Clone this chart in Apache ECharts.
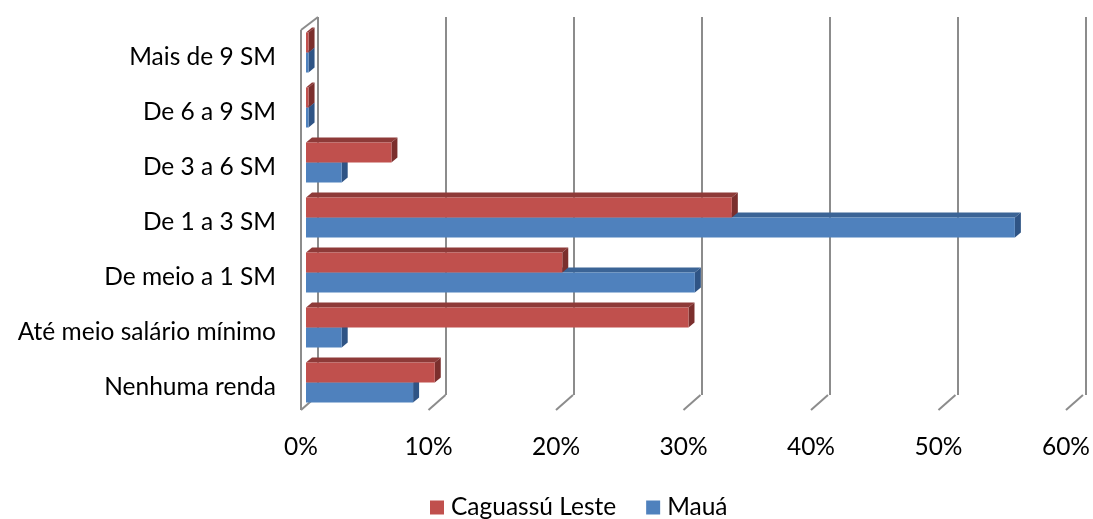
<!DOCTYPE html>
<html><head><meta charset="utf-8">
<script src="https://cdn.jsdelivr.net/npm/echarts@6/dist/echarts.min.js"></script>
<style>html,body{margin:0;padding:0;background:#fff}#c{width:1093px;height:519px}</style>
</head><body><div id="c"></div>
<script>
const categories = ['Nenhuma renda','Até meio salário mínimo','De meio a 1 SM','De 1 a 3 SM','De 3 a 6 SM','De 6 a 9 SM','Mais de 9 SM'];
const caguassu = [10.1, 30.0, 20.1, 33.4, 6.7, 0.2, 0.2];
const maua = [8.4, 2.8, 30.5, 55.6, 2.8, 0.2, 0.2];
const xTicks = [0, 10, 20, 30, 40, 50, 60];
const seriesNames = ['Caguassú Leste', 'Mauá'];

const FONT = 'Lato';
const FS = 24.5;
const DX = 6, DY = -5, H = 20, SHIFT = 5;

function barRenderer(isTop, front, topC, sideC) {
  return function (params, api) {
    const v = api.value(0), c = api.value(1);
    const p0 = api.coord([0, c]);
    const p1 = api.coord([v, c]);
    const boundary = p0[1] - 5;
    const y0 = isTop ? boundary - H : boundary;
    const x0 = p0[0] + SHIFT, x1 = p1[0] + SHIFT;
    return {
      type: 'group',
      children: [
        {type: 'polygon', shape: {points: [[x0, y0], [x0 + DX, y0 + DY], [x1 + DX, y0 + DY], [x1, y0]]}, style: {fill: topC}},
        {type: 'polygon', shape: {points: [[x1, y0], [x1 + DX, y0 + DY], [x1 + DX, y0 + H + DY], [x1, y0 + H]]}, style: {fill: sideC}},
        {type: 'rect', shape: {x: x0, y: y0, width: Math.max(x1 - x0, 0), height: H}, style: {fill: front}}
      ]
    };
  };
}

function wallRenderer(params, api) {
  const v = api.value(0);
  const cs = params.coordSys;
  const x = api.coord([v, 0])[0];
  const by = cs.y + cs.height - 5;
  const children = [
    {type: 'line', shape: {x1: x, y1: by, x2: x + 17, y2: by - 15}, style: {stroke: '#8c8c8c', lineWidth: 2}}
  ];
  if (v === 0) {
    children.push({type: 'line', shape: {x1: x, y1: cs.y, x2: x, y2: by}, style: {stroke: '#8c8c8c', lineWidth: 2}});
    children.push({type: 'line', shape: {x1: x, y1: cs.y, x2: x + 17, y2: cs.y - 13}, style: {stroke: '#8c8c8c', lineWidth: 2}});
  }
  return {type: 'group', children};
}

const chart = echarts.init(document.getElementById('c'));
chart.setOption({
  animation: false,
  textStyle: {fontFamily: FONT},
  legend: {
    data: seriesNames,
    bottom: -6,
    left: 425,
    itemWidth: 14, itemHeight: 14, itemGap: 30,
    icon: 'rect',
    textStyle: {fontFamily: FONT, fontSize: FS, color: '#000', padding: [0, 0, 0, 2]}
  },
  grid: [
    {left: 301, width: 768, top: 30, height: 385},
    {left: 318, width: 768, top: 17, height: 378}
  ],
  xAxis: [
    {gridIndex: 0, type: 'value', min: 0, max: 60, interval: 10,
      axisLine: {show: false}, axisTick: {show: false}, splitLine: {show: false},
      axisLabel: {formatter: '{value}%', fontSize: FS, color: '#000', fontFamily: FONT, margin: 20}},
    {gridIndex: 1, type: 'value', min: 0, max: 60, interval: 10,
      axisLine: {show: false}, axisTick: {show: false}, axisLabel: {show: false},
      splitLine: {show: true, showMinLine: true, showMaxLine: true, lineStyle: {color: '#8c8c8c', width: 2}}}
  ],
  yAxis: [
    {gridIndex: 0, type: 'category', data: categories,
      axisLine: {show: false}, axisTick: {show: false}, splitLine: {show: false},
      axisLabel: {fontSize: FS, color: '#000', fontFamily: FONT, margin: 25, padding: [10, 0, 0, 0]}},
    {gridIndex: 1, type: 'category', data: categories, show: false}
  ],
  series: [
    {name: 'walls', type: 'custom', xAxisIndex: 0, yAxisIndex: 0, silent: true, z: 1,
      data: xTicks.map(t => [t, 0]), renderItem: wallRenderer, encode: {x: 0}},
    {name: seriesNames[1], type: 'custom', xAxisIndex: 0, yAxisIndex: 0, z: 2,
      itemStyle: {color: '#4F81BD'},
      data: maua.map((v, i) => [v, i]), encode: {x: 0, y: 1},
      renderItem: barRenderer(false, '#4F81BD', '#3B6496', '#2F5485')},
    {name: seriesNames[0], type: 'custom', xAxisIndex: 0, yAxisIndex: 0, z: 3,
      itemStyle: {color: '#C0504D'},
      data: caguassu.map((v, i) => [v, i]), encode: {x: 0, y: 1},
      renderItem: barRenderer(true, '#C0504D', '#8E3A38', '#7B2F2D')}
  ]
});
</script></body></html>
